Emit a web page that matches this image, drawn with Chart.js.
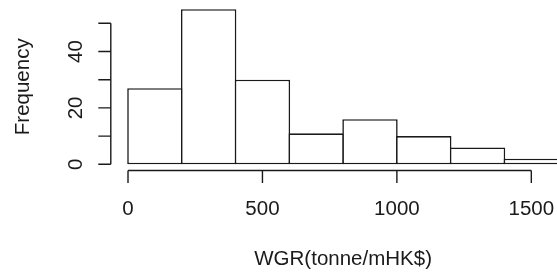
<!DOCTYPE html>
<html>
<head>
<meta charset="utf-8">
<script src="https://cdn.jsdelivr.net/npm/chart.js@4/dist/chart.umd.min.js"></script>
<style>
html, body { margin: 0; padding: 0; background: #fff; }
canvas { display: block; }
</style>
</head>
<body>
<canvas id="hist" width="557" height="273"></canvas>
<script>
const binEdges = [0, 200, 400, 600, 800, 1000, 1200, 1400, 1600];
const frequencies = [27, 55, 30, 11, 16, 10, 6, 2];
const xTicks = [0, 500, 1000, 1500];
const yTicks = [0, 10, 20, 30, 40, 50];
const yTickLabels = ['0', '', '20', '', '40', ''];
const xTitle = 'WGR(tonne/mHK$)';
const yTitle = 'Frequency';

const ink = '#1a1a1a';
const font = '20.5px "Liberation Sans", Arial, Helvetica, sans-serif';

// one bar per bin, centred between its edges
const bars = frequencies.map((f, i) => ({ x: (binEdges[i] + binEdges[i + 1]) / 2, y: f }));

// R-style axes, detached from the bars, drawn from the chart's scales
const rAxes = {
    id: 'rAxes',
    afterDraw(chart) {
        const ctx = chart.ctx;
        const xs = chart.scales.x;
        const ys = chart.scales.y;
        const area = chart.chartArea;
        const tick = 12.5;

        ctx.save();
        ctx.strokeStyle = ink;
        ctx.fillStyle = ink;
        ctx.lineWidth = 1.4;
        ctx.font = font;

        // x axis
        const ay = area.bottom;
        ctx.beginPath();
        ctx.moveTo(xs.getPixelForValue(xTicks[0]), ay);
        ctx.lineTo(xs.getPixelForValue(xTicks[xTicks.length - 1]), ay);
        xs.ticks.forEach(t => {
            const px = xs.getPixelForValue(t.value);
            ctx.moveTo(px, ay);
            ctx.lineTo(px, ay + tick);
        });
        ctx.stroke();

        ctx.textAlign = 'center';
        ctx.textBaseline = 'alphabetic';
        xs.ticks.forEach(t => ctx.fillText(String(t.value), xs.getPixelForValue(t.value), ay + 44.5));
        const mid = (binEdges[0] + binEdges[binEdges.length - 1]) / 2;
        ctx.fillText(xTitle, xs.getPixelForValue(mid), ay + 94.5);

        // y axis
        const ax = area.left;
        ctx.beginPath();
        ctx.moveTo(ax, ys.getPixelForValue(yTicks[0]));
        ctx.lineTo(ax, ys.getPixelForValue(yTicks[yTicks.length - 1]));
        ys.ticks.forEach(t => {
            const py = ys.getPixelForValue(t.value);
            ctx.moveTo(ax, py);
            ctx.lineTo(ax - tick, py);
        });
        ctx.stroke();

        ys.ticks.forEach((t, i) => {
            const label = yTickLabels[i];
            if (!label) return;
            ctx.save();
            ctx.translate(ax - 29, ys.getPixelForValue(t.value));
            ctx.rotate(-Math.PI / 2);
            ctx.fillText(label, 0, 0);
            ctx.restore();
        });

        ctx.save();
        ctx.translate(ax - 81.5, (area.top + area.bottom) / 2);
        ctx.rotate(-Math.PI / 2);
        ctx.fillText(yTitle, 0, 0);
        ctx.restore();

        ctx.restore();
    }
};

new Chart(document.getElementById('hist'), {
    type: 'bar',
    data: {
        datasets: [{
            data: bars,
            backgroundColor: '#ffffff',
            borderColor: ink,
            borderWidth: 1.6,
            borderSkipped: false,
            inflateAmount: 0,
            barPercentage: 1.03,
            categoryPercentage: 1
        }]
    },
    options: {
        responsive: false,
        animation: false,
        devicePixelRatio: 1,
        events: [],
        layout: { padding: { left: 110.8, right: 0, top: 3, bottom: 102.5 } },
        plugins: {
            legend: { display: false },
            tooltip: { enabled: false }
        },
        scales: {
            x: {
                type: 'linear',
                display: false,
                offset: false,
                min: -64,
                max: 1595.5,
                afterBuildTicks: s => { s.ticks = xTicks.map(v => ({ value: v })); }
            },
            y: {
                type: 'linear',
                display: false,
                min: -2.2,
                max: 57.2,
                afterBuildTicks: s => { s.ticks = yTicks.map(v => ({ value: v })); }
            }
        }
    },
    plugins: [rAxes]
});
</script>
</body>
</html>
